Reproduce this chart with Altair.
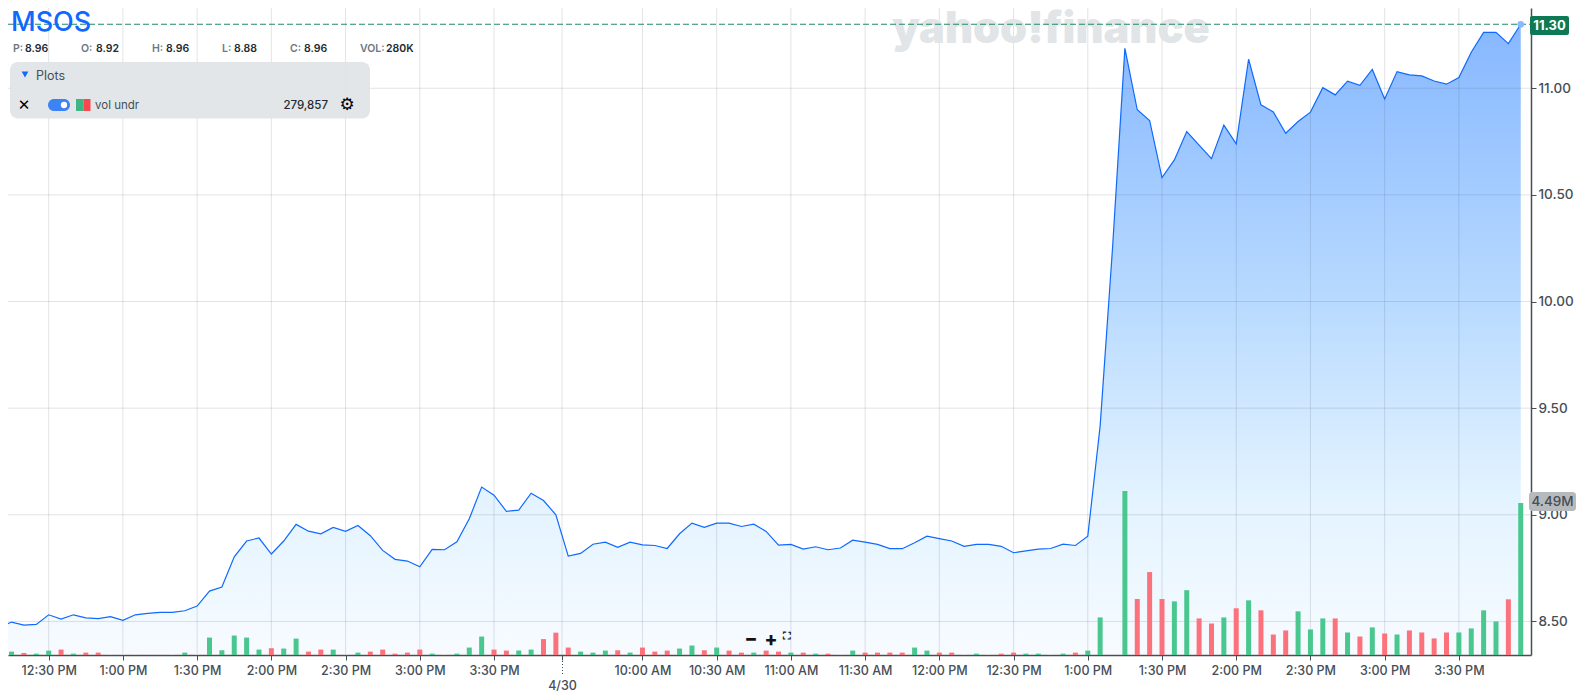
import altair as alt
import pandas as pd

# bar index: 0 = 12:30 PM of the first session, one step = 5 minutes
first_index = -4
prices = [
    8.472, 8.497, 8.483, 8.486, 8.531, 8.511, 8.531, 8.517, 8.513, 8.522, 8.505, 8.531, 8.538, 8.542, 8.542, 8.550,
    8.572, 8.642, 8.661, 8.803, 8.877, 8.891, 8.816, 8.877, 8.955, 8.923, 8.911, 8.941, 8.922, 8.950, 8.902, 8.833,
    8.791, 8.783, 8.756, 8.838, 8.836, 8.873, 8.981, 9.130, 9.092, 9.016, 9.022, 9.101, 9.067, 9.000,
    8.806, 8.819, 8.862, 8.872, 8.847, 8.872, 8.859, 8.856, 8.842, 8.911, 8.961, 8.941, 8.961, 8.961, 8.945, 8.956,
    8.922, 8.858, 8.861, 8.839, 8.850, 8.836, 8.844, 8.881, 8.872, 8.861, 8.841, 8.841, 8.869, 8.900, 8.888, 8.877,
    8.852, 8.861, 8.861, 8.852, 8.822, 8.831, 8.839, 8.842, 8.862, 8.856, 8.900, 9.417, 10.25, 11.187, 10.899, 10.849,
    10.581, 10.664, 10.797, 10.733, 10.670, 10.827, 10.739, 11.136, 10.922, 10.889, 10.789, 10.844, 10.888, 11.003,
    10.969, 11.033, 11.014, 11.088, 10.950, 11.078, 11.063, 11.058, 11.034, 11.019, 11.050, 11.169, 11.262, 11.262,
    11.209, 11.30,
]
# volume, thousands of shares
volumes = [
    100, 100, 60, 40, 130, 160, 40, 70, 70, 10, 10, 10, 5, 5, 10, 70,
    10, 515, 140, 575, 515, 160, 200, 190, 485, 100, 160, 160, 10, 70, 100, 160,
    40, 70, 160, 40, 10, 40, 220, 545, 160, 130, 130, 160, 470, 660,
    220, 100, 70, 130, 140, 70, 220, 100, 130, 190, 280, 140, 220, 130, 70, 70,
    130, 100, 70, 70, 40, 40, 10, 130, 70, 70, 70, 70, 220, 130, 70, 70,
    10, 40, 10, 40, 70, 40, 40, 10, 40, 70, 130, 1110, 0, 4845, 1655, 2450,
    1655, 1585, 1915, 1080, 930, 1110, 1380, 1615, 1320, 605, 725, 1290, 755, 1080,
    1080, 665, 545, 815, 635, 605, 725, 665, 490, 665, 665, 785, 1320, 990,
    1645, 4490,
]
directions = (
    ["u", "u", "d", "u"]
    + ["u", "d", "u", "d", "d", "f", "f", "f", "f", "f", "f", "u", "f"]
    + ["u", "u", "u", "u", "u", "d", "u", "u", "d", "d", "u", "f", "u", "d", "d", "d", "d", "d", "u", "f", "u", "u", "u", "d", "d", "u", "u", "d", "d"]
    + ["d", "u", "u", "u", "d", "u", "d", "d", "d", "u", "u", "d", "u", "d", "d", "u", "d", "d", "u", "d", "u", "d", "f", "u", "d", "d", "d", "d", "u", "u", "d", "d", "f", "u", "f", "d", "d", "u", "u", "f"]
    + ["u", "d", "u", "u", "f", "u", "d", "d", "d", "u", "u", "d", "d", "u", "d", "u", "d", "d", "d", "u", "u", "u", "d", "u", "d", "u", "d", "u", "d", "d", "d", "d", "u", "u", "u", "u", "d", "u"]
)

tick_values = [0, 6, 12, 18, 24, 30, 36, 41.5, 48, 54, 60, 66, 72, 78, 84, 90, 96, 102, 108, 114]
tick_labels = ["12:30 PM", "1:00 PM", "1:30 PM", "2:00 PM", "2:30 PM", "3:00 PM", "3:30 PM", "",
               "10:00 AM", "10:30 AM", "11:00 AM", "11:30 AM", "12:00 PM", "12:30 PM",
               "1:00 PM", "1:30 PM", "2:00 PM", "2:30 PM", "3:00 PM", "3:30 PM"]
price_ticks = [8.5, 9.0, 9.5, 10.0, 10.5, 11.0]
last_price = 11.30
area_floor = 8.347

n = len(prices)
frame = pd.DataFrame({
    "i": [first_index + k for k in range(n)],
    "price": prices,
    "floor": [area_floor] * n,
    "volume": volumes[:n],
    "dir": directions[:n],
})

FONT = "Inter"
INK = "#464e56"
BLUE = "#0f69ff"
GRID = "rgba(70,80,95,0.16)"
X_DOMAIN = [-3.29, 119.83]
Y_DOMAIN = [8.3425, 11.3763]
W, H = 1523, 647

x_scale = alt.Scale(domain=X_DOMAIN, nice=False, zero=False, padding=0)
y_scale = alt.Scale(domain=Y_DOMAIN, nice=False, zero=False)
vals_js = "[" + ",".join(str(v) for v in tick_values) + "]"
labs_js = "[" + ",".join("'" + s + "'" for s in tick_labels) + "]"

x_axis = alt.Axis(
    values=tick_values, labelExpr=f"{labs_js}[indexof({vals_js}, datum.value)]", title=None,
    grid=False, domainColor=INK, domainWidth=1.5,
    tickColor=INK, tickSize=5, tickWidth=1, labelColor=INK, labelFont=FONT, labelFontSize=12.5,
    labelFontWeight=500, labelPadding=4, labelOverlap=False, labelFlush=False,
)
y_axis = alt.Axis(
    orient="right", values=price_ticks, format=".2f", title=None, grid=False,
    domainColor=INK, domainWidth=1.5, tickColor=INK, tickSize=5, tickWidth=1,
    labelColor=INK, labelFont=FONT, labelFontSize=13.5, labelFontWeight=500, labelPadding=2,
)

base = alt.Chart(frame)
X = alt.X("i:Q", scale=x_scale, axis=x_axis)
Y = alt.Y("price:Q", scale=y_scale, axis=y_axis)

area = base.mark_area(
    clip=True,
    opacity=1,
    color=alt.Gradient(
        gradient="linear", x1=1, x2=1, y1=1, y2=0,
        stops=[
            alt.GradientStop(offset=0, color="#f7fbff"),
            alt.GradientStop(offset=0.25, color="#e3f3ff"),
            alt.GradientStop(offset=0.56, color="#b8daff"),
            alt.GradientStop(offset=1, color="#86b7ff"),
        ],
    ),
).encode(x=X, y=Y, y2=alt.Y2("floor:Q"))

grid_x = alt.Chart(pd.DataFrame({"i": tick_values})).mark_rule(color=GRID, strokeWidth=1).encode(x=X)
grid_y = alt.Chart(pd.DataFrame({"price": price_ticks})).mark_rule(color=GRID, strokeWidth=1).encode(y=Y)

line = base.mark_line(clip=True, color=BLUE, strokeWidth=1.2).encode(x=X, y=Y)

dash = alt.Chart(pd.DataFrame({"p": [last_price]})).mark_rule(
    color="#1f8a66", strokeWidth=1.1, strokeDash=[6, 3]
).encode(y=alt.Y("p:Q", scale=y_scale, axis=y_axis), x=alt.value(0), x2=alt.value(W))

dot = alt.Chart(frame.tail(1)).mark_point(
    filled=True, color="#8ab9ff", size=45, opacity=1
).encode(x=X, y=Y)

bars = base.mark_bar(size=5, clip=True).encode(
    x=X,
    y=alt.Y("volume:Q", scale=alt.Scale(domain=[0, 19112], nice=False), axis=None),
    color=alt.Color("dir:N", legend=None,
                    scale=alt.Scale(domain=["u", "d", "f"], range=["#4ac78f", "#fc727c", "#e6e8ea"])),
)


# helpers for furniture; arguments are page pixels
def px(v):
    return alt.value(v - 8)


one = pd.DataFrame({"a": [0]})


def txt(s, x, y, size=11.5, color="#232a31", weight=600, align="left", font=FONT):
    return alt.Chart(one).mark_text(
        text=s, fontSize=size, color=color, fontWeight=weight, align=align, baseline="middle", font=font
    ).encode(x=px(x), y=px(y))


def box(x0, y0, x1, y1, fill, r=4, op=1.0):
    return alt.Chart(one).mark_rect(color=fill, cornerRadius=r, opacity=op).encode(
        x=px(x0), x2=px(x1), y=px(y0), y2=px(y1)
    )


watermark = txt("yahoo!finance", 1051, 30, size=43.3, color="#e1e5e7", weight=900, align="center")

stats = []
for lab, val, x0, x1 in [("P:", "8.96", 13, 25), ("O:", "8.92", 81, 96), ("H:", "8.96", 152, 166),
                         ("L:", "8.88", 222, 234), ("C:", "8.96", 290, 304), ("VOL:", "280K", 360, 386)]:
    stats += [txt(lab, x0, 49, size=10.5, color="#6e7780"), txt(val, x1, 49, size=10.5, color="#232a31")]

panel = [
    box(10, 62, 370, 118.5, "#e0e4e6", r=8, op=0.92),
    alt.Chart(one).mark_point(shape="triangle-down", filled=True, color=BLUE, size=45, opacity=1).encode(
        x=px(25), y=px(74.5)),
    txt("Plots", 36, 76, size=12.5, color=INK, weight=400),
    txt("✕", 24, 105, size=15, color="#000000", weight=700, align="center", font="DejaVu Sans"),
    box(48, 99, 70, 111, "#3d83f5", r=6),
    alt.Chart(one).mark_point(filled=True, color="#ffffff", size=40, opacity=1).encode(x=px(64), y=px(105)),
    box(76, 99, 83.5, 111, "#3fb583", r=0),
    box(83.5, 99, 90.5, 111, "#f8474f", r=0),
    txt("vol undr", 95, 105.5, size=11.5, color=INK, weight=400),
    txt("279,857", 328, 105.5, size=11.5, color="#232a31", weight=500, align="right"),
    txt("⚙", 347, 105, size=17, color="#000000", weight=400, align="center", font="DejaVu Sans"),
]

title = txt("MSOS", 11, 23, size=27, color=BLUE, weight=500)

tags = [
    box(1530, 16, 1569, 35, "#0e7a55", r=2),
    txt("11.30", 1549.5, 25.5, size=13, color="#ffffff", weight=700, align="center"),
    box(1529, 492, 1576, 511, "#b6babd", r=3),
    txt("4.49M", 1552.5, 501.5, size=13.5, color=INK, weight=500, align="center"),
]

zoom = [
    txt("−", 751, 639, size=19, color="#111111", weight=800, align="center"),
    txt("+", 771, 640, size=19, color="#111111", weight=800, align="center"),
    txt("⛶", 787, 636.5, size=11, color="#111111", weight=700, align="center", font="DejaVu Sans"),
]

session = [
    alt.Chart(one).mark_rule(color=INK, strokeDash=[1, 2], strokeWidth=1).encode(
        x=px(562.5), y=px(661), y2=px(674)
    ),
    txt("4/30", 562.5, 686, size=12.5, color=INK, weight=500, align="center"),
]

price_layer = alt.layer(area, grid_x, grid_y, watermark, *panel, dash, line, *stats, title, dot, *session)
chart = (
    alt.layer(price_layer, bars, *zoom, *tags)
    .resolve_scale(y="independent", color="independent")
    .properties(
        width=W, height=H,
        autosize=alt.AutoSizeParams(type="none"),
        padding={"left": 0, "top": 0, "right": 51, "bottom": 36},
        background="#ffffff",
    )
    .configure_view(stroke=None)
)

chart.save("out.html", embed_options={"renderer": "svg", "actions": False})
